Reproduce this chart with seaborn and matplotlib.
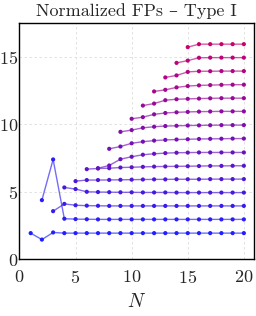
"""Normalized FPs, Type I: one curve per starting N."""
import matplotlib
import numpy as np
import pandas as pd
import seaborn as sns

matplotlib.use("Agg")
import matplotlib.pyplot as plt

TITLE = "Normalized FPs – Type I"
XLABEL = "$N$"
XTICKS = [0, 5, 10, 15, 20]
YTICKS = [0, 5, 10, 15]

# start N of each curve and its values for N = start..20
STARTS = [1, 2, 3, 4, 5, 6, 7, 8, 9, 10, 11, 12, 13, 14, 15]
S1 = [1.93, 1.45, 1.98, 1.93, 1.93, 1.93, 1.93, 1.93, 1.93, 1.93,
      1.93, 1.93, 1.93, 1.93, 1.93, 1.93, 1.93, 1.93, 1.93, 1.93]
S2 = [4.38, 7.40, 3.00, 2.97, 2.96, 2.95, 2.95, 2.95, 2.95, 2.95,
      2.95, 2.95, 2.95, 2.95, 2.95, 2.95, 2.95, 2.95, 2.95]
S3 = [3.56, 4.10, 4.00, 3.97, 3.96, 3.95, 3.95, 3.95, 3.95, 3.95,
      3.95, 3.95, 3.95, 3.95, 3.95, 3.95, 3.95, 3.95]
S4 = [5.32, 5.20, 5.00, 4.98, 4.97, 4.96, 4.96, 4.95, 4.95, 4.95,
      4.94, 4.94, 4.94, 4.94, 4.94, 4.94, 4.94]
S5 = [5.79, 5.87, 5.87, 5.88, 5.89, 5.90, 5.91, 5.92, 5.92, 5.93,
      5.93, 5.93, 5.94, 5.94, 5.94, 5.94]
S6 = [6.68, 6.73, 6.75, 6.80, 6.82, 6.85, 6.87, 6.88, 6.89, 6.90,
      6.91, 6.92, 6.92, 6.93, 6.93]
S7 = [6.75, 6.95, 7.42, 7.60, 7.75, 7.82, 7.87, 7.90, 7.91, 7.92,
      7.92, 7.92, 7.92, 7.92]
S8 = [8.19, 8.36, 8.60, 8.72, 8.80, 8.85, 8.88, 8.90, 8.92, 8.93,
      8.94, 8.95, 8.95]
S9 = [9.45, 9.58, 9.75, 9.83, 9.88, 9.90, 9.92, 9.93, 9.94, 9.95,
      9.95, 9.95]
S10 = [10.42, 10.54, 10.75, 10.85, 10.90, 10.93, 10.95, 10.96, 10.97,
       10.97, 10.97]
S11 = [11.40, 11.55, 11.80, 11.87, 11.90, 11.92, 11.94, 11.95, 11.95,
       11.95]
S12 = [12.45, 12.57, 12.75, 12.85, 12.90, 12.92, 12.94, 12.95, 12.95]
S13 = [13.49, 13.64, 13.90, 13.95, 13.95, 13.96, 13.96, 13.96]
S14 = [14.57, 14.74, 14.95, 14.96, 14.96, 14.96, 14.96]
S15 = [15.74, 15.96, 15.96, 15.96, 15.96, 15.96]
SERIES = [S1, S2, S3, S4, S5, S6, S7, S8, S9, S10, S11, S12, S13, S14, S15]


def long_frame() -> pd.DataFrame:
    rows = []
    for k, (start, vals) in enumerate(zip(STARTS, SERIES)):
        for i, v in enumerate(vals):
            rows.append({"curve": k, "N": start + i, "value": v})
    return pd.DataFrame(rows)


def main() -> None:
    sns.set_theme(style="white")
    plt.rcParams["font.family"] = ["cmr10", "DejaVu Serif"]
    plt.rcParams["mathtext.fontset"] = "cm"
    plt.rcParams["axes.formatter.use_mathtext"] = True

    df = long_frame()
    pal = sns.blend_palette(["#1f1fff", "#c8006e"], len(SERIES))

    fig = plt.figure(figsize=(2.56, 3.16), dpi=100)
    ax = fig.add_axes([0.076, 0.18, 0.916, 0.748])
    sns.lineplot(data=df, x="N", y="value", hue="curve", palette=pal,
                 lw=1.0, alpha=0.65, legend=False, ax=ax, estimator=None)
    sns.scatterplot(data=df, x="N", y="value", hue="curve", palette=pal,
                    s=9, linewidth=0, legend=False, ax=ax, zorder=3)

    ax.set_xlim(0, 20.9)
    ax.set_ylim(0, 17.55)
    ax.set_xticks(XTICKS)
    ax.set_yticks(YTICKS)
    ax.grid(True, color="#dddddd", lw=0.6, ls=(0, (3, 3)))
    ax.tick_params(length=0, labelsize=13)
    ax.tick_params(axis="x", pad=7)
    ax.tick_params(axis="y", pad=1)
    for sp in ax.spines.values():
        sp.set_color("black")
        sp.set_linewidth(1.0)
    ax.set_xlabel(XLABEL, fontsize=14, labelpad=5)
    ax.set_ylabel("")
    ax.set_title(TITLE, fontsize=13, pad=5)
    fig.savefig("out.png", dpi=100)
    plt.close(fig)


if __name__ == "__main__":
    main()
